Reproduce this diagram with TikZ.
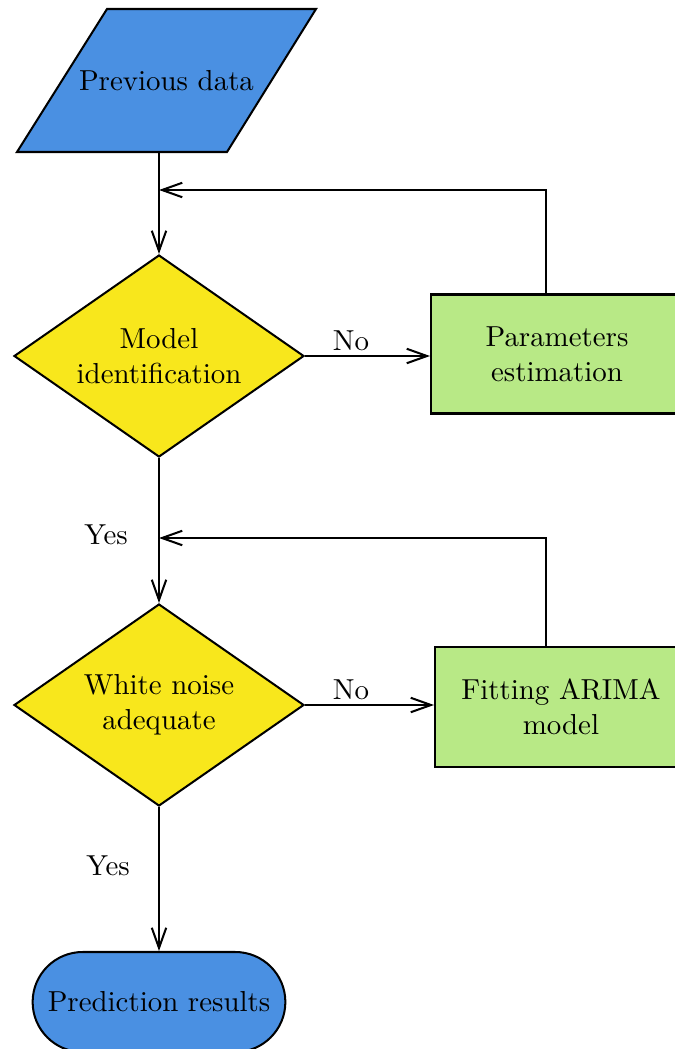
\documentclass[tikz,border=0pt]{standalone}
\usetikzlibrary{shapes.geometric,shapes.misc,arrows.meta}
\definecolor{cblue}{HTML}{4A90E2}
\definecolor{cyellow}{HTML}{F8E71C}
\definecolor{cgreen}{HTML}{B8E986}
\begin{document}
\begin{tikzpicture}[x=0.346pt,y=-0.346pt,
  line width=0.7pt,
  arr/.style={-{Straight Barb[length=7pt,width=5pt,line width=0.7pt]}},
  decision/.style={diamond,draw,fill=cyellow,align=center,inner sep=0pt,shape aspect=1.44,minimum width=290*0.346pt,minimum height=202*0.346pt},
  procbox/.style={rectangle,draw,fill=cgreen,align=center,minimum width=252*0.346pt,minimum height=119*0.346pt},
  termbox/.style={rounded rectangle,draw,fill=cblue,align=center,minimum width=272*0.346pt,minimum height=100*0.346pt},
  lbl/.style={inner sep=0pt}]
\useasboundingbox (0,0) rectangle (675,1049);
\clip (0,0) rectangle (675,1049);
% input parallelogram
\draw[fill=cblue] (107,9) -- (316,9) -- (227,152) -- (17,152) -- cycle;
\node (prev) at (166.5,80.5) {Previous data};
\coordinate (prevb) at (159,152);
% decisions
\node[decision] (d1) at (159,356) {Model\\identification};
\node[decision] (d2) at (159,705) {White noise\\adequate};
% process boxes
\node[procbox] (b1) at (557,354) {Parameters\\estimation};
\node[procbox,minimum height=120*0.346pt] (b2) at (561,707) {Fitting ARIMA\\model};
% terminal
\node[termbox] (t) at (159,1002) {Prediction results};
% junctions
\coordinate (j1) at (159,190);
\coordinate (k1) at (546,190);
\coordinate (j2) at (159,538);
\coordinate (k2) at (546,538);
% connectors
\draw[arr] (prevb) -- (d1.north);
\draw[arr] (k1 |- b1.north) -- (k1) -- (j1);
\draw[arr] (d1.east) -- (d1.east -| b1.west);
\draw[arr] (d1.south) -- (d2.north);
\draw[arr] (k2 |- b2.north) -- (k2) -- (j2);
\draw[arr] (d2.east) -- (d2.east -| b2.west);
\draw[arr] (d2.south) -- (t.north);
% labels
\node[lbl] (no1) at (351,341) {No};
\node[lbl] (no2) at (351,690) {No};
\node[lbl] (yes1) at (106,535) {Yes};
\node[lbl] (yes2) at (108,866) {Yes};
\end{tikzpicture}
\end{document}
